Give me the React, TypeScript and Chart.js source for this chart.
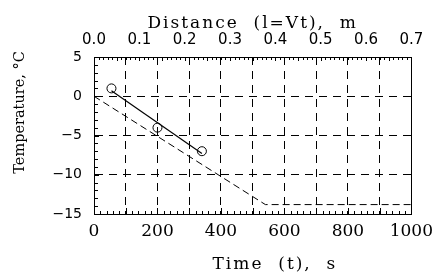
import React, { useEffect, useRef } from 'react';
import { Chart, registerables } from 'chart.js';

Chart.register(...registerables);

// ---- data ----
const timeLabels = [0, 200, 400, 600, 800, 1000];
const timeGrid = [0, 100, 200, 300, 400, 500, 600, 700, 800, 900, 1000];
const distanceLabels = [0.0, 0.1, 0.2, 0.3, 0.4, 0.5, 0.6, 0.7];
const tempLabels = [-15, -10, -5, 0, 5];

const measuredTime = [55, 200, 340];
const measuredTemp = [1, -4, -7];

const fitTime = [55, 340];
const fitTemp = [0.7, -7.3];

const modelTime = [0, 540, 1000];
const modelTemp = [0, -13.8, -13.8];

const pts = (xs: number[], ys: number[]) => xs.map((x, i) => ({ x, y: ys[i] }));

const spacingPlugin = {
  id: 'spacingPlugin',
  beforeDraw(chart: any) {
    chart.ctx.letterSpacing = '2px';
  },
  beforeDatasetsDraw(chart: any) {
    chart.ctx.letterSpacing = '0px';
  },
  afterDraw(chart: any) {
    chart.ctx.letterSpacing = '0px';
  },
};

const minorTicksPlugin = {
  id: 'minorTicks',
  afterDraw(chart: any) {
    const { ctx, chartArea: a, scales } = chart;
    ctx.save();
    ctx.strokeStyle = '#000';
    ctx.lineWidth = 1;
    ctx.setLineDash([]);
    ctx.beginPath();
    for (let t = 0; t <= 1000; t += 20) {
      const px = Math.round(scales.x.getPixelForValue(t)) + 0.5;
      const len = t % 100 === 0 ? 6 : 3;
      ctx.moveTo(px, a.bottom);
      ctx.lineTo(px, a.bottom - len);
    }
    for (let i = 0; i <= 70; i++) {
      const px = Math.round(scales.x2.getPixelForValue(i / 100)) + 0.5;
      const len = i % 5 === 0 ? 4 : 3;
      ctx.moveTo(px, a.top);
      ctx.lineTo(px, a.top + len);
    }
    for (let v = -15; v <= 5; v++) {
      const py = Math.round(scales.y.getPixelForValue(v)) + 0.5;
      const len = v % 5 === 0 ? 5 : 4;
      ctx.moveTo(a.left, py);
      ctx.lineTo(a.left + len, py);
    }
    ctx.stroke();
    ctx.restore();
  },
};

const edgeSolid = (c: any) => {
  const v = c && c.tick ? c.tick.value : null;
  return v === 0 || v === 1000 ? [] : [8, 6];
};

export default function App() {
  const ref = useRef<HTMLCanvasElement>(null);

  useEffect(() => {
    const canvas = ref.current;
    if (!canvas) return;
    const chart = new Chart(canvas, {
      type: 'scatter',
      data: {
        datasets: [
          {
            data: pts(measuredTime, measuredTemp),
            showLine: false,
            pointStyle: 'circle',
            pointRadius: 4.5,
            pointBorderWidth: 1,
            borderColor: '#000',
            backgroundColor: 'rgba(0,0,0,0)',
          },
          {
            data: pts(fitTime, fitTemp),
            showLine: true,
            borderColor: '#000',
            borderWidth: 1.2,
            pointRadius: 0,
            fill: false,
          },
          {
            data: pts(modelTime, modelTemp),
            showLine: true,
            borderColor: '#000',
            borderWidth: 1,
            borderDash: [7, 4],
            pointRadius: 0,
            fill: false,
          },
        ] as any,
      },
      options: {
        animation: false,
        responsive: false,
        devicePixelRatio: 1,
        layout: { padding: { left: 0, right: 24, top: 0, bottom: 0 } },
        plugins: {
          legend: { display: false },
          tooltip: { enabled: false },
        },
        scales: {
          x: {
            type: 'linear',
            position: 'bottom',
            min: 0,
            max: 1000,
            afterBuildTicks: (s: any) => {
              s.ticks = timeGrid.map((value) => ({ value }));
            },
            afterFit: (s: any) => {
              s.height = 59;
            },
            ticks: {
              autoSkip: false,
              maxRotation: 0,
              callback: (v: any) => (timeLabels.includes(Number(v)) ? String(v) : ''),
              font: { family: 'DejaVu Serif', size: 17 },
              color: '#000',
              padding: 7,
              z: 1,
            },
            grid: { color: '#000', lineWidth: 1, drawTicks: false },
            border: { display: true, color: '#000', width: 1, dash: edgeSolid },
            title: {
              display: true,
              text: '      Time  (t),  s',
              color: '#000',
              font: { family: 'DejaVu Serif', size: 17, lineHeight: 1 },
              padding: { top: 0, bottom: 0 },
            },
          },
          x2: {
            type: 'linear',
            position: 'top',
            min: 0,
            max: 0.7,
            afterBuildTicks: (s: any) => {
              s.ticks = distanceLabels.map((value) => ({ value }));
            },
            afterFit: (s: any) => {
              s.height = 57;
            },
            ticks: {
              autoSkip: false,
              maxRotation: 0,
              callback: (v: any) => Number(v).toFixed(1),
              font: { family: 'DejaVu Sans', size: 15 },
              color: '#000',
              padding: 8,
              z: 1,
            },
            grid: { drawOnChartArea: false, drawTicks: false },
            border: { display: true, color: '#000', width: 1 },
            title: {
              display: true,
              text: 'Distance  (l=Vt),  m',
              color: '#000',
              font: { family: 'DejaVu Serif', size: 17, lineHeight: 1 },
              padding: { top: 15, bottom: 0 },
            },
          },
          y: {
            type: 'linear',
            position: 'left',
            min: -15,
            max: 5,
            afterBuildTicks: (s: any) => {
              s.ticks = tempLabels.map((value) => ({ value }));
            },
            afterFit: (s: any) => {
              s.width = 94;
            },
            ticks: {
              callback: (v: any) => (Number(v) < 0 ? '\u2212' + Math.abs(Number(v)) : String(v)),
              font: { family: 'DejaVu Sans', size: 14 },
              color: '#000',
              padding: 12,
              z: 1,
            },
            grid: { color: '#000', lineWidth: 1, drawTicks: false, z: 1 },
            border: { display: true, color: '#000', width: 1, dash: [8, 6], z: 2 },
            title: {
              display: true,
              text: '          Temperature, °C',
              color: '#000',
              font: { family: 'DejaVu Serif', size: 14.5, lineHeight: 1 },
              padding: { top: 13, bottom: 0 },
            },
          },
        },
      } as any,
      plugins: [spacingPlugin, minorTicksPlugin],
    });
    return () => chart.destroy();
  }, []);

  return (
    <div style={{ position: 'fixed', left: 0, top: 0, width: 440, height: 273, background: '#fff' }}>
      <canvas ref={ref} width={440} height={273} style={{ display: 'block' }} />
    </div>
  );
}
